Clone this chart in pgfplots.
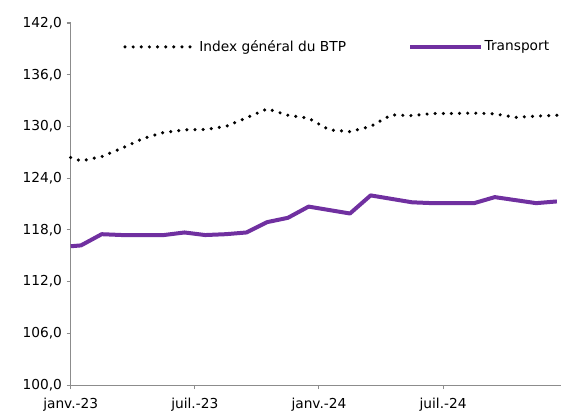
\documentclass[border=0pt]{standalone}
\usepackage{pgfplots}
\pgfplotsset{compat=1.18}
\usepackage{fontspec}
\setmainfont{DejaVu Sans}
\definecolor{transp}{HTML}{7030A0}
\definecolor{axgray}{HTML}{8C8C8C}
\begin{document}
\begin{tikzpicture}
\begin{axis}[
    scale only axis,
    width=367.7pt, height=271.5pt,
    xmin=0, xmax=23.7,
    ymin=100, ymax=142,
    ytick={100,106,...,142},
    xtick={0,6,12,18},
    xticklabels={janv.-23, juil.-23, janv.-24, juil.-24},
    axis lines*=left,
    axis line style={draw=axgray, line width=0.8pt},
    every tick/.style={draw=axgray, line width=0.8pt},
    tick align=outside,
    major tick length=3pt,
    font=\fontsize{10.3}{12}\selectfont,
    /pgf/number format/.cd, fixed, fixed zerofill, precision=1, use comma, assume math mode=true,
    /pgfplots/.cd,
    xticklabel style={yshift=-3pt},
    legend columns=2,
    legend style={at={(0.1067,0.934)}, anchor=west, draw=none, fill=none, inner sep=0pt,
        font=\fontsize{10.3}{12}\selectfont,
        nodes={inner sep=1.5pt},
        /tikz/every even column/.append style={column sep=45pt}},
    legend image code/.code={\draw[#1] (0pt,0pt) -- (53pt,0pt);},
    clip=false,
]
\addplot[black, line width=2.6pt, line cap=round, dash pattern=on 0pt off 6.1pt] coordinates {
(0,126.4) (0.5,126.0) (1.5,126.5) (2.5,127.5) (3.5,128.6) (4.5,129.3) (5.5,129.6)
(6.5,129.65) (7.5,130.0) (8.5,131.0) (9.5,132.05) (10.5,131.3) (11.5,130.95)
(12.5,129.6) (13.5,129.4) (14.5,130.0) (15.5,131.35) (16.5,131.25) (17.5,131.5)
(18.5,131.5) (19.5,131.55) (20.5,131.45) (21.5,131.05) (22.5,131.2) (23.5,131.3)
};
\addlegendentry{Index général du BTP}
\addplot[transp, line width=3pt, line join=round] coordinates {
(0,116.1) (0.5,116.2) (1.5,117.5) (2.5,117.4) (3.5,117.4) (4.5,117.4) (5.5,117.7)
(6.5,117.4) (7.5,117.5) (8.5,117.7) (9.5,118.9) (10.5,119.4) (11.5,120.7)
(12.5,120.3) (13.5,119.9) (14.5,122.0) (15.5,121.6) (16.5,121.2) (17.5,121.1)
(18.5,121.1) (19.5,121.1) (20.5,121.8) (21.5,121.45) (22.5,121.1) (23.5,121.3)
};
\addlegendentry{Transport}
\end{axis}
\pgfresetboundingbox
\path (-53pt,-24pt) rectangle (367.7pt,288.75pt);
\end{tikzpicture}
\end{document}
